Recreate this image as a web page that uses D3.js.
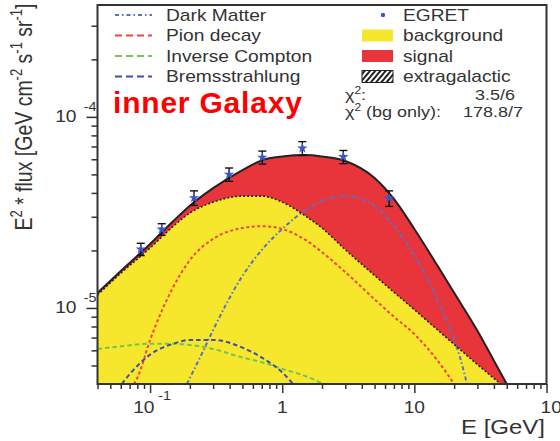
<!DOCTYPE html>
<html>
<head>
<meta charset="utf-8">
<script src="https://cdn.jsdelivr.net/npm/d3@7"></script>
<style>
  html, body { margin: 0; padding: 0; background: #fff; }
  svg { display: block; }
  text { font-family: "Liberation Sans", Arial, Helvetica, sans-serif; }
</style>
</head>
<body>
<svg id="chart" width="560" height="441"></svg>
<script>
// ---- EGRET data points (E in GeV, E^2 * flux in GeV cm^-2 s^-1 sr^-1) ----
const egretE    = [0.085, 0.1225, 0.215, 0.396, 0.707, 1.42, 2.90, 6.44];
const egretFlux = [2.03e-5, 2.58e-5, 3.77e-5, 5.00e-5, 6.14e-5, 6.85e-5, 6.18e-5, 3.75e-5];
const egretErr  = [0.15e-5, 0.18e-5, 0.33e-5, 0.40e-5, 0.48e-5, 0.57e-5, 0.49e-5, 0.35e-5];

// ---- model: total (background + signal) ----
const totalE    = [0.04, 0.06, 0.1, 0.15, 0.2, 0.3, 0.5, 0.7, 1, 1.5, 2, 3, 5, 7, 10, 15, 20, 30, 40, 50];
const totalFlux = [1.20e-5, 1.56e-5, 2.16e-5, 2.85e-5, 3.43e-5, 4.24e-5, 5.27e-5, 5.92e-5, 6.20e-5, 6.31e-5,
                   6.20e-5, 5.88e-5, 4.79e-5, 3.72e-5, 2.59e-5, 1.66e-5, 1.20e-5, 7.6e-6, 5.3e-6, 4.0e-6];

// ---- model: background ----
const bgE    = [0.04, 0.06, 0.1, 0.15, 0.2, 0.3, 0.5, 0.7, 1, 1.5, 2, 3, 5, 7, 10, 15, 20, 30, 45];
const bgFlux = [1.17e-5, 1.52e-5, 2.06e-5, 2.68e-5, 3.14e-5, 3.58e-5, 3.85e-5, 3.85e-5, 3.58e-5, 3.03e-5,
                2.62e-5, 2.02e-5, 1.48e-5, 1.21e-5, 9.8e-6, 7.67e-6, 6.45e-6, 5.06e-6, 4.0e-6];

// ---- components ----
const dmE    = [0.19, 0.2, 0.25, 0.3, 0.5, 0.7, 1, 1.5, 2, 3, 5, 7, 10, 15, 20, 22, 25];
const dmFlux = [4.0e-6, 4.3e-6, 5.88e-6, 7.67e-6, 1.47e-5, 2.01e-5, 2.59e-5, 3.25e-5, 3.63e-5, 3.85e-5,
                3.42e-5, 2.68e-5, 1.89e-5, 1.10e-5, 6.8e-6, 5.6e-6, 4.0e-6];

const pionE    = [0.0755, 0.08, 0.1, 0.15, 0.2, 0.3, 0.5, 0.7, 1, 1.5, 2, 3, 5, 7, 10, 15, 20];
const pionFlux = [4.0e-6, 4.3e-6, 6.8e-6, 1.29e-5, 1.78e-5, 2.30e-5, 2.62e-5, 2.68e-5, 2.59e-5, 2.27e-5,
                  1.96e-5, 1.54e-5, 1.11e-5, 9.0e-6, 7.3e-6, 5.3e-6, 4.0e-6];

const icE    = [0.04, 0.06, 0.1, 0.15, 0.2, 0.3, 0.5, 0.7, 1, 1.5, 2.05];
const icFlux = [6.1e-6, 6.3e-6, 6.5e-6, 6.5e-6, 6.4e-6, 6.1e-6, 5.5e-6, 5.2e-6, 4.8e-6, 4.4e-6, 4.0e-6];

const bremsE    = [0.061, 0.07, 0.1, 0.15, 0.2, 0.3, 0.5, 0.7, 1, 1.21];
const bremsFlux = [4.0e-6, 4.5e-6, 5.7e-6, 6.5e-6, 6.8e-6, 6.8e-6, 6.2e-6, 5.5e-6, 4.6e-6, 4.0e-6];

// ---- axes ----
const xMajorTicks = [0.1, 1, 10, 100];
const xMinorTicks = [0.04, 0.05, 0.06, 0.07, 0.08, 0.09, 0.2, 0.3, 0.4, 0.5, 0.6, 0.7, 0.8, 0.9,
                     2, 3, 4, 5, 6, 7, 8, 9, 20, 30, 40, 50, 60, 70, 80, 90];
const xTickBase = ["10", "1", "10", "10"];
const xTickExp  = ["-1", "", "", "2"];
const yMajorTicks = [1e-5, 1e-4];
const yMinorTicks = [5e-6, 6e-6, 7e-6, 8e-6, 9e-6, 2e-5, 3e-5, 4e-5, 5e-5, 6e-5, 7e-5, 8e-5, 9e-5, 2e-4, 3e-4];
const yTickBase = ["10", "10"];
const yTickExp  = ["-5", "-4"];

// ---- legend ----
const lineLegendLabels = ["Dark Matter", "Pion decay", "Inverse Compton", "Bremsstrahlung"];
const boxLegendLabels  = ["EGRET", "background", "signal", "extragalactic"];
const chiLabels = ["3.5/6", "178.8/7"];

// ---- styles ----
const INK = "#333";
const YELLOW = "#f6e62c";
const RED = "#e8353b";
const styles = {
  dm:    { color: "#5b6fc9", dash: "4,2.5,1.5,2.5", legendDash: "4,3,1.5,3" },
  pion:  { color: "#f0453c", dash: "3,2.5",          legendDash: "7,4" },
  ic:    { color: "#74c450", dash: "4.5,3",          legendDash: "7,4" },
  brems: { color: "#3d4eb0", dash: "4.5,3",          legendDash: "7,4" }
};
const SX = 1.2; // horizontal text stretch

const svg = d3.select("#chart");
const x = d3.scaleLog().domain([0.04, 100]).range([97.5, 546.5]);
const y = d3.scaleLog().domain([4e-6, 3.85e-4]).range([384, 5]);
const [x0, x1] = x.range();
const [yb, yt] = y.range();

const defs = svg.append("defs");
defs.append("clipPath").attr("id", "plotClip").append("rect")
  .attr("x", x0).attr("y", yt).attr("width", x1 - x0).attr("height", yb - yt);
const pat = defs.append("pattern").attr("id", "hatch")
  .attr("patternUnits", "userSpaceOnUse").attr("width", 4).attr("height", 4)
  .attr("patternTransform", "rotate(40)");
pat.append("rect").attr("width", 4).attr("height", 4).attr("fill", "#fff");
pat.append("line").attr("x1", 1).attr("y1", 0).attr("x2", 1).attr("y2", 4)
  .attr("stroke", "#222").attr("stroke-width", 2);

const zip = (es, fs) => es.map((e, i) => ({ e, f: fs[i] }));
const totalPts = zip(totalE, totalFlux);
const bgPts = zip(bgE, bgFlux);

const plot = svg.append("g").attr("clip-path", "url(#plotClip)");

const areaGen = d3.area().x(d => x(d.e)).y0(yb).y1(d => y(d.f)).curve(d3.curveMonotoneX);
const lineGen = d3.line().x(d => x(d.e)).y(d => y(d.f)).curve(d3.curveMonotoneX);

// signal (red) sits between total and background
plot.append("path").datum(totalPts).attr("d", areaGen).attr("fill", RED);
plot.append("path").datum(bgPts).attr("d", areaGen).attr("fill", YELLOW);

// component curves
const comps = [
  { pts: zip(pionE, pionFlux), s: styles.pion },
  { pts: zip(icE, icFlux), s: styles.ic },
  { pts: zip(bremsE, bremsFlux), s: styles.brems },
  { pts: zip(dmE, dmFlux), s: styles.dm }
];
comps.forEach(c => {
  plot.append("path").datum(c.pts).attr("d", lineGen)
    .attr("fill", "none").attr("stroke", c.s.color)
    .attr("stroke-width", 2).attr("stroke-dasharray", c.s.dash);
});

// background boundary and total curve
plot.append("path").datum(bgPts).attr("d", lineGen)
  .attr("fill", "none").attr("stroke", "#222").attr("stroke-width", 1.6)
  .attr("stroke-dasharray", "2,2");
plot.append("path").datum(totalPts).attr("d", lineGen)
  .attr("fill", "none").attr("stroke", "#222").attr("stroke-width", 2);

// EGRET points with error bars
const pts = svg.append("g");
egretE.forEach((e, i) => {
  const cx = x(e), f = egretFlux[i], er = egretErr[i];
  const ylo = y(f - er), yhi = y(f + er);
  pts.append("line").attr("x1", cx).attr("x2", cx).attr("y1", ylo).attr("y2", yhi)
    .attr("stroke", "#111").attr("stroke-width", 1.4);
  [ylo, yhi].forEach(yy => pts.append("line")
    .attr("x1", cx - 4).attr("x2", cx + 4).attr("y1", yy).attr("y2", yy)
    .attr("stroke", "#111").attr("stroke-width", 1.4));
  pts.append("path").attr("d", d3.symbol(d3.symbolStar, 34)())
    .attr("transform", `translate(${cx},${y(f)})`).attr("fill", "#3d55c8");
});

// frame
svg.append("rect").attr("x", x0).attr("y", yt).attr("width", x1 - x0).attr("height", yb - yt)
  .attr("fill", "none").attr("stroke", INK).attr("stroke-width", 2);

// ticks
function styleAxis(g) {
  g.select(".domain").remove();
  g.selectAll("line").attr("stroke", INK).attr("stroke-width", 1.5);
}
svg.append("g").attr("transform", `translate(0,${yb})`)
  .call(d3.axisBottom(x).tickValues(xMinorTicks).tickSize(5).tickFormat("")).call(styleAxis);
svg.append("g").attr("transform", `translate(0,${yb})`)
  .call(d3.axisBottom(x).tickValues(xMajorTicks).tickSize(9).tickFormat("")).call(styleAxis);
svg.append("g").attr("transform", `translate(${x0},0)`)
  .call(d3.axisLeft(y).tickValues(yMinorTicks).tickSize(6).tickFormat("")).call(styleAxis);
svg.append("g").attr("transform", `translate(${x0},0)`)
  .call(d3.axisLeft(y).tickValues(yMajorTicks).tickSize(11).tickFormat("")).call(styleAxis);

// stretched text helper
function label(px, py, anchor, size, extra) {
  const g = svg.append("g").attr("transform", `translate(${px},${py}) scale(${SX},1)` + (extra || ""));
  return g.append("text").attr("text-anchor", anchor).attr("font-size", size).attr("fill", INK);
}

// x tick labels
xMajorTicks.forEach((v, i) => {
  const isLast = i === xMajorTicks.length - 1;
  const t = label(isLast ? x(v) - 6 : x(v) + (xTickExp[i] ? 2 : 0), 413,
                  isLast ? "start" : "middle", 16);
  t.append("tspan").text(xTickBase[i]);
  if (xTickExp[i]) {
    t.append("tspan").attr("font-size", 12).attr("dx", 3).attr("dy", -13).text(xTickExp[i]);
  }
});

// y tick labels
yMajorTicks.forEach((v, i) => {
  const t = label(x0 - 1, y(v) + 5, "end", 16);
  t.append("tspan").text(yTickBase[i]);
  t.append("tspan").attr("font-size", 12).attr("dx", 6).attr("dy", -11).text(yTickExp[i]);
});

// axis titles
label(545, 434, "end", 20).text("E [GeV]");
{
  const t = label(32, 117, "middle", 19.5, " rotate(-90)");
  const sup = (s) => t.append("tspan").attr("font-size", 13).attr("dy", -8).text(s);
  const back = (s) => t.append("tspan").attr("dy", 8).text(s);
  t.append("tspan").text("E");
  sup("2");
  back(" * flux [GeV cm");
  sup("-2");
  back(" s");
  sup("-1");
  back(" sr");
  sup("-1");
  back("]");
}

// region annotation
svg.append("text").attr("x", 113).attr("y", 113).attr("font-size", 30).attr("font-weight", "bold")
  .attr("letter-spacing", 0.8).attr("fill", "#ff0000").text("inner Galaxy");

// legend: component lines
const rowY = [15, 35.5, 56, 76.5];
const lineStyles = [styles.dm, styles.pion, styles.ic, styles.brems];
lineLegendLabels.forEach((txt, i) => {
  svg.append("line").attr("x1", 115).attr("x2", 152).attr("y1", rowY[i]).attr("y2", rowY[i])
    .attr("stroke", lineStyles[i].color).attr("stroke-width", 1.8)
    .attr("stroke-dasharray", lineStyles[i].legendDash);
  label(166, rowY[i] + 5.7, "start", 16).text(txt);
});

// legend: data, fills
svg.append("circle").attr("cx", 383).attr("cy", rowY[0]).attr("r", 2.2).attr("fill", "#3d55c8");
const boxFills = [null, YELLOW, RED, "url(#hatch)"];
boxLegendLabels.forEach((txt, i) => {
  if (boxFills[i]) {
    svg.append("rect").attr("x", 362).attr("y", rowY[i] - 6).attr("width", 31).attr("height", 12)
      .attr("fill", boxFills[i])
      .attr("stroke", i === 3 ? "#222" : "none").attr("stroke-width", 1);
  }
  label(403, rowY[i] + 5.7, "start", 16).text(txt);
});

// fit quality
{
  const t1 = label(345, 100, "start", 15);
  t1.append("tspan").text("χ");
  t1.append("tspan").attr("font-size", 10).attr("dy", -6).text("2");
  t1.append("tspan").attr("dy", 6).text(":");
  label(515, 100, "end", 15).text(chiLabels[0]);

  const t2 = label(345, 117, "start", 15);
  t2.append("tspan").text("χ");
  t2.append("tspan").attr("font-size", 10).attr("dy", -6).text("2");
  t2.append("tspan").attr("dy", 6).text(" (bg only):");
  label(523, 117, "end", 15).text(chiLabels[1]);
}
</script>
</body>
</html>
